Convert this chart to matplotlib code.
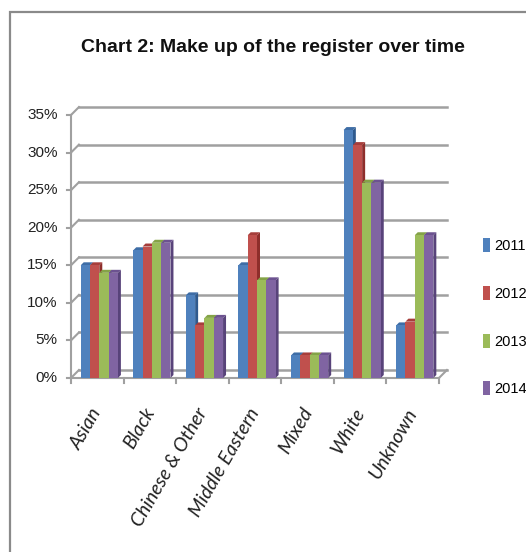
import matplotlib
matplotlib.use("Agg")
import matplotlib.pyplot as plt
from matplotlib.patches import Polygon, Rectangle
from matplotlib.lines import Line2D
import numpy as np

categories = ["Asian", "Black", "Chinese & Other", "Middle Eastern", "Mixed", "White", "Unknown"]
years = ["2011", "2012", "2013", "2014"]
v2011 = [15, 17, 11, 15, 3, 33, 7]
v2012 = [15, 17.5, 7, 19, 3, 31, 7.5]
v2013 = [14, 18, 8, 13, 3, 26, 19]
v2014 = [14, 18, 8, 13, 3, 26, 19]
series = [v2011, v2012, v2013, v2014]
yticks = [0, 5, 10, 15, 20, 25, 30, 35]
ytick_labels = ["0%", "5%", "10%", "15%", "20%", "25%", "30%", "35%"]

front_cols = ["#4F81BD", "#C0504D", "#9BBB59", "#8064A2"]
side_cols = ["#2F5A8E", "#8E2E2B", "#6F8B36", "#58437A"]
top_cols = ["#3E6DA6", "#A63E3B", "#84A347", "#6C5290"]

narrow = ["Liberation Sans", "DejaVu Sans"]
lab_font = ["Lato", "DejaVu Sans"]

fig = plt.figure(figsize=(5.26, 5.52), dpi=100)
W, H = 526, 552

# frame around chart
fig.patches.append(Rectangle((10 / W, -0.1), 1.2, 1 - 12 / H + 0.1, transform=fig.transFigure,
                             fill=False, edgecolor="#8a8a8a", lw=1.6, zorder=0))

ax = fig.add_axes([0.1049, 0.3016, 0.7696, 0.5172])
ax.set_xlim(-0.3, 7.4)
ax.set_ylim(-1, 37)
ax.axis("off")

ncat = len(categories)
dxw, dyw = 0.152, 1.065   # wall depth offset
ddx, ddy = 0.057, 0.40    # bar depth offset
grid_c = "#a0a0a0"

# back wall gridlines + slants
for v, lab in zip(yticks, ytick_labels):
    ax.add_line(Line2D([dxw, ncat + dxw], [v + dyw, v + dyw], color=grid_c, lw=1.8, zorder=1))
    ax.add_line(Line2D([0, dxw], [v, v + dyw], color=grid_c, lw=1.5, zorder=1))
    ax.add_line(Line2D([-0.07, 0], [v, v], color=grid_c, lw=1.5, zorder=1))
    ax.text(-0.25, v, lab, ha="right", va="center",
            fontsize=11, family=narrow, color="#222222")
# front y axis
ax.add_line(Line2D([0, 0], [0, yticks[-1]], color=grid_c, lw=1.5, zorder=1))
# floor front edge with ticks
ax.add_line(Line2D([0, ncat], [0, 0], color=grid_c, lw=1.5, zorder=1))
ax.add_line(Line2D([ncat, ncat + dxw], [0, dyw], color=grid_c, lw=1.5, zorder=1))
for i in range(ncat + 1):
    ax.add_line(Line2D([i, i], [0, -0.6], color=grid_c, lw=1.5, zorder=1))

bw = 0.177
start = 0.185
x = np.arange(ncat)
for k, vals in enumerate(series):
    centers = x + start + (k + 0.5) * bw
    bars = ax.bar(centers, vals, width=bw, color=front_cols[k], zorder=3 + k * 3, label=years[k],
                  linewidth=0)
    for rect, v in zip(bars, vals):
        x0 = rect.get_x()
        x1 = x0 + rect.get_width()
        top = Polygon([(x0, v), (x1, v), (x1 + ddx, v + ddy), (x0 + ddx, v + ddy)],
                      closed=True, facecolor=top_cols[k], edgecolor="none", zorder=2 + k * 3)
        side = Polygon([(x1, 0), (x1 + ddx, ddy), (x1 + ddx, v + ddy), (x1, v)],
                       closed=True, facecolor=side_cols[k], edgecolor="none", zorder=2 + k * 3)
        ax.add_patch(top)
        ax.add_patch(side)

# category labels
for i, c in enumerate(categories):
    ax.text(i + 0.37, -3.6, c, rotation=60, ha="right", va="top", rotation_mode="anchor",
            fontsize=14, family=lab_font, style="italic", color="#222222")

# title
fig.text(273 / W, 1 - 47 / H, "Chart 2: Make up of the register over time", ha="center", va="center",
         fontsize=14, fontweight="bold", family=narrow, color="#111111")

# legend
handles = [Rectangle((0, 0), 1, 1, facecolor=front_cols[k]) for k in range(4)]
fig.legend(handles, years, loc="upper left", bbox_to_anchor=(483 / W, 1 - 238 / H),
           frameon=False, prop={"family": narrow, "size": 10.5},
           handlelength=0.45, handleheight=1.1, handletextpad=0.35, labelspacing=2.25,
           borderpad=0, borderaxespad=0)

fig.savefig("out.png", dpi=100)
